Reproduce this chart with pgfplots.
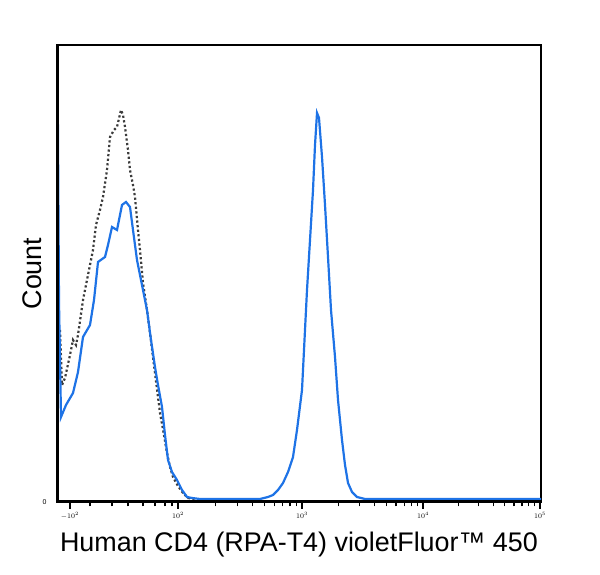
\documentclass[border=0pt]{standalone}
\usepackage{fontspec}
\setmainfont{Liberation Sans}
\usepackage{pgfplots}
\pgfplotsset{compat=1.18}
\definecolor{cblue}{RGB}{30,115,230}
\definecolor{cgray}{RGB}{60,60,60}

\begin{document}
\begin{tikzpicture}[x=1bp,y=1bp]
  \path[use as bounding box] (0,0) rectangle (600,575);
  \begin{axis}[
      at={(57bp,73bp)}, anchor=south west,
      scale only axis, width=484bp, height=457bp,
      xmin=57, xmax=541, ymin=0, ymax=457,
      axis line style={line width=1.5bp},
      xtick={70,178,302,423,540},
      xticklabels={$-10^{2}$,$10^{2}$,$10^{3}$,$10^{4}$,$10^{5}$},
      minor xtick={90,112,128,143,155,165,172,
        215.3,237.2,252.7,264.7,274.5,282.8,290,296.3,
        338.4,359.7,374.8,386.6,396.1,404.2,411.3,417.4,
        458.2,478.8,493.4,504.8,514.0,521.9,528.7,534.6},
      ytick={0}, yticklabels={0},
      xtick pos=bottom, ytick pos=left,
      tick align=outside,
      major tick length=7bp, minor tick length=4.5bp,
      xtick style={black, line width=1.3bp},
      ytick style={draw=none},
      ticklabel style={font=\fontsize{7}{8}\selectfont},
      xlabel={Human CD4 (RPA-T4) violetFluor™ 450},
      ylabel={Count},
      label style={font=\fontsize{27}{30}\selectfont},
      xlabel style={at={(axis description cs:0.5,-0.094)}, anchor=center},
      ylabel style={at={(axis description cs:-0.052,0.5)}, anchor=center},
    ]

    % isotype control
    \addplot[cgray, line width=2.2bp, dash pattern=on 2.2bp off 2.4bp] coordinates {
      (60,172) (62,117) (65,124) (70,147) (73,162) (76,157) (78,167) (83,202)
      (88,227) (93,252) (96,277) (100,292) (103,305) (107,332) (110,365)
      (114,372) (117,375) (121,392) (123,387) (125,375) (128,352) (130,332)
      (133,317) (135,305) (138,272) (140,252) (143,219) (147,192) (150,169)
      (155,129) (160,89) (164,67) (167,49) (170,35) (173,25) (178,16)
      (183,9) (188,4) (195,3)};

    % CD4 stained
    \addplot[cblue, line width=2.2bp] coordinates {
      (57.5,442) (59,200) (61,85) (66,97) (73,109) (78,130) (83,165) (90,177)
      (94,202) (98,240) (105,245) (108,257) (112,275) (117,272) (122,297)
      (126,300) (130,295) (133,272) (137,242) (142,217) (147,192) (151,162)
      (155,135) (158,117) (162,95) (165,67) (168,42) (172,30) (177,22)
      (182,12) (187,5) (192,4) (200,3) (260,3) (268,5) (273,7) (278,12)
      (283,19) (288,30) (293,45) (297,72) (302,112) (304.5,162) (307,212)
      (310,262) (313,312) (315,357) (317,389) (319,384) (322,345) (325,297)
      (328,245) (331,192) (335,145) (338,102) (342,62) (345,37) (348,19)
      (352,10) (357,5) (365,3) (541,3)};

    \draw[black, line width=3bp] (rel axis cs:0,1) -- (rel axis cs:0,0) -- (rel axis cs:1,0);
  \end{axis}
\end{tikzpicture}
\end{document}
